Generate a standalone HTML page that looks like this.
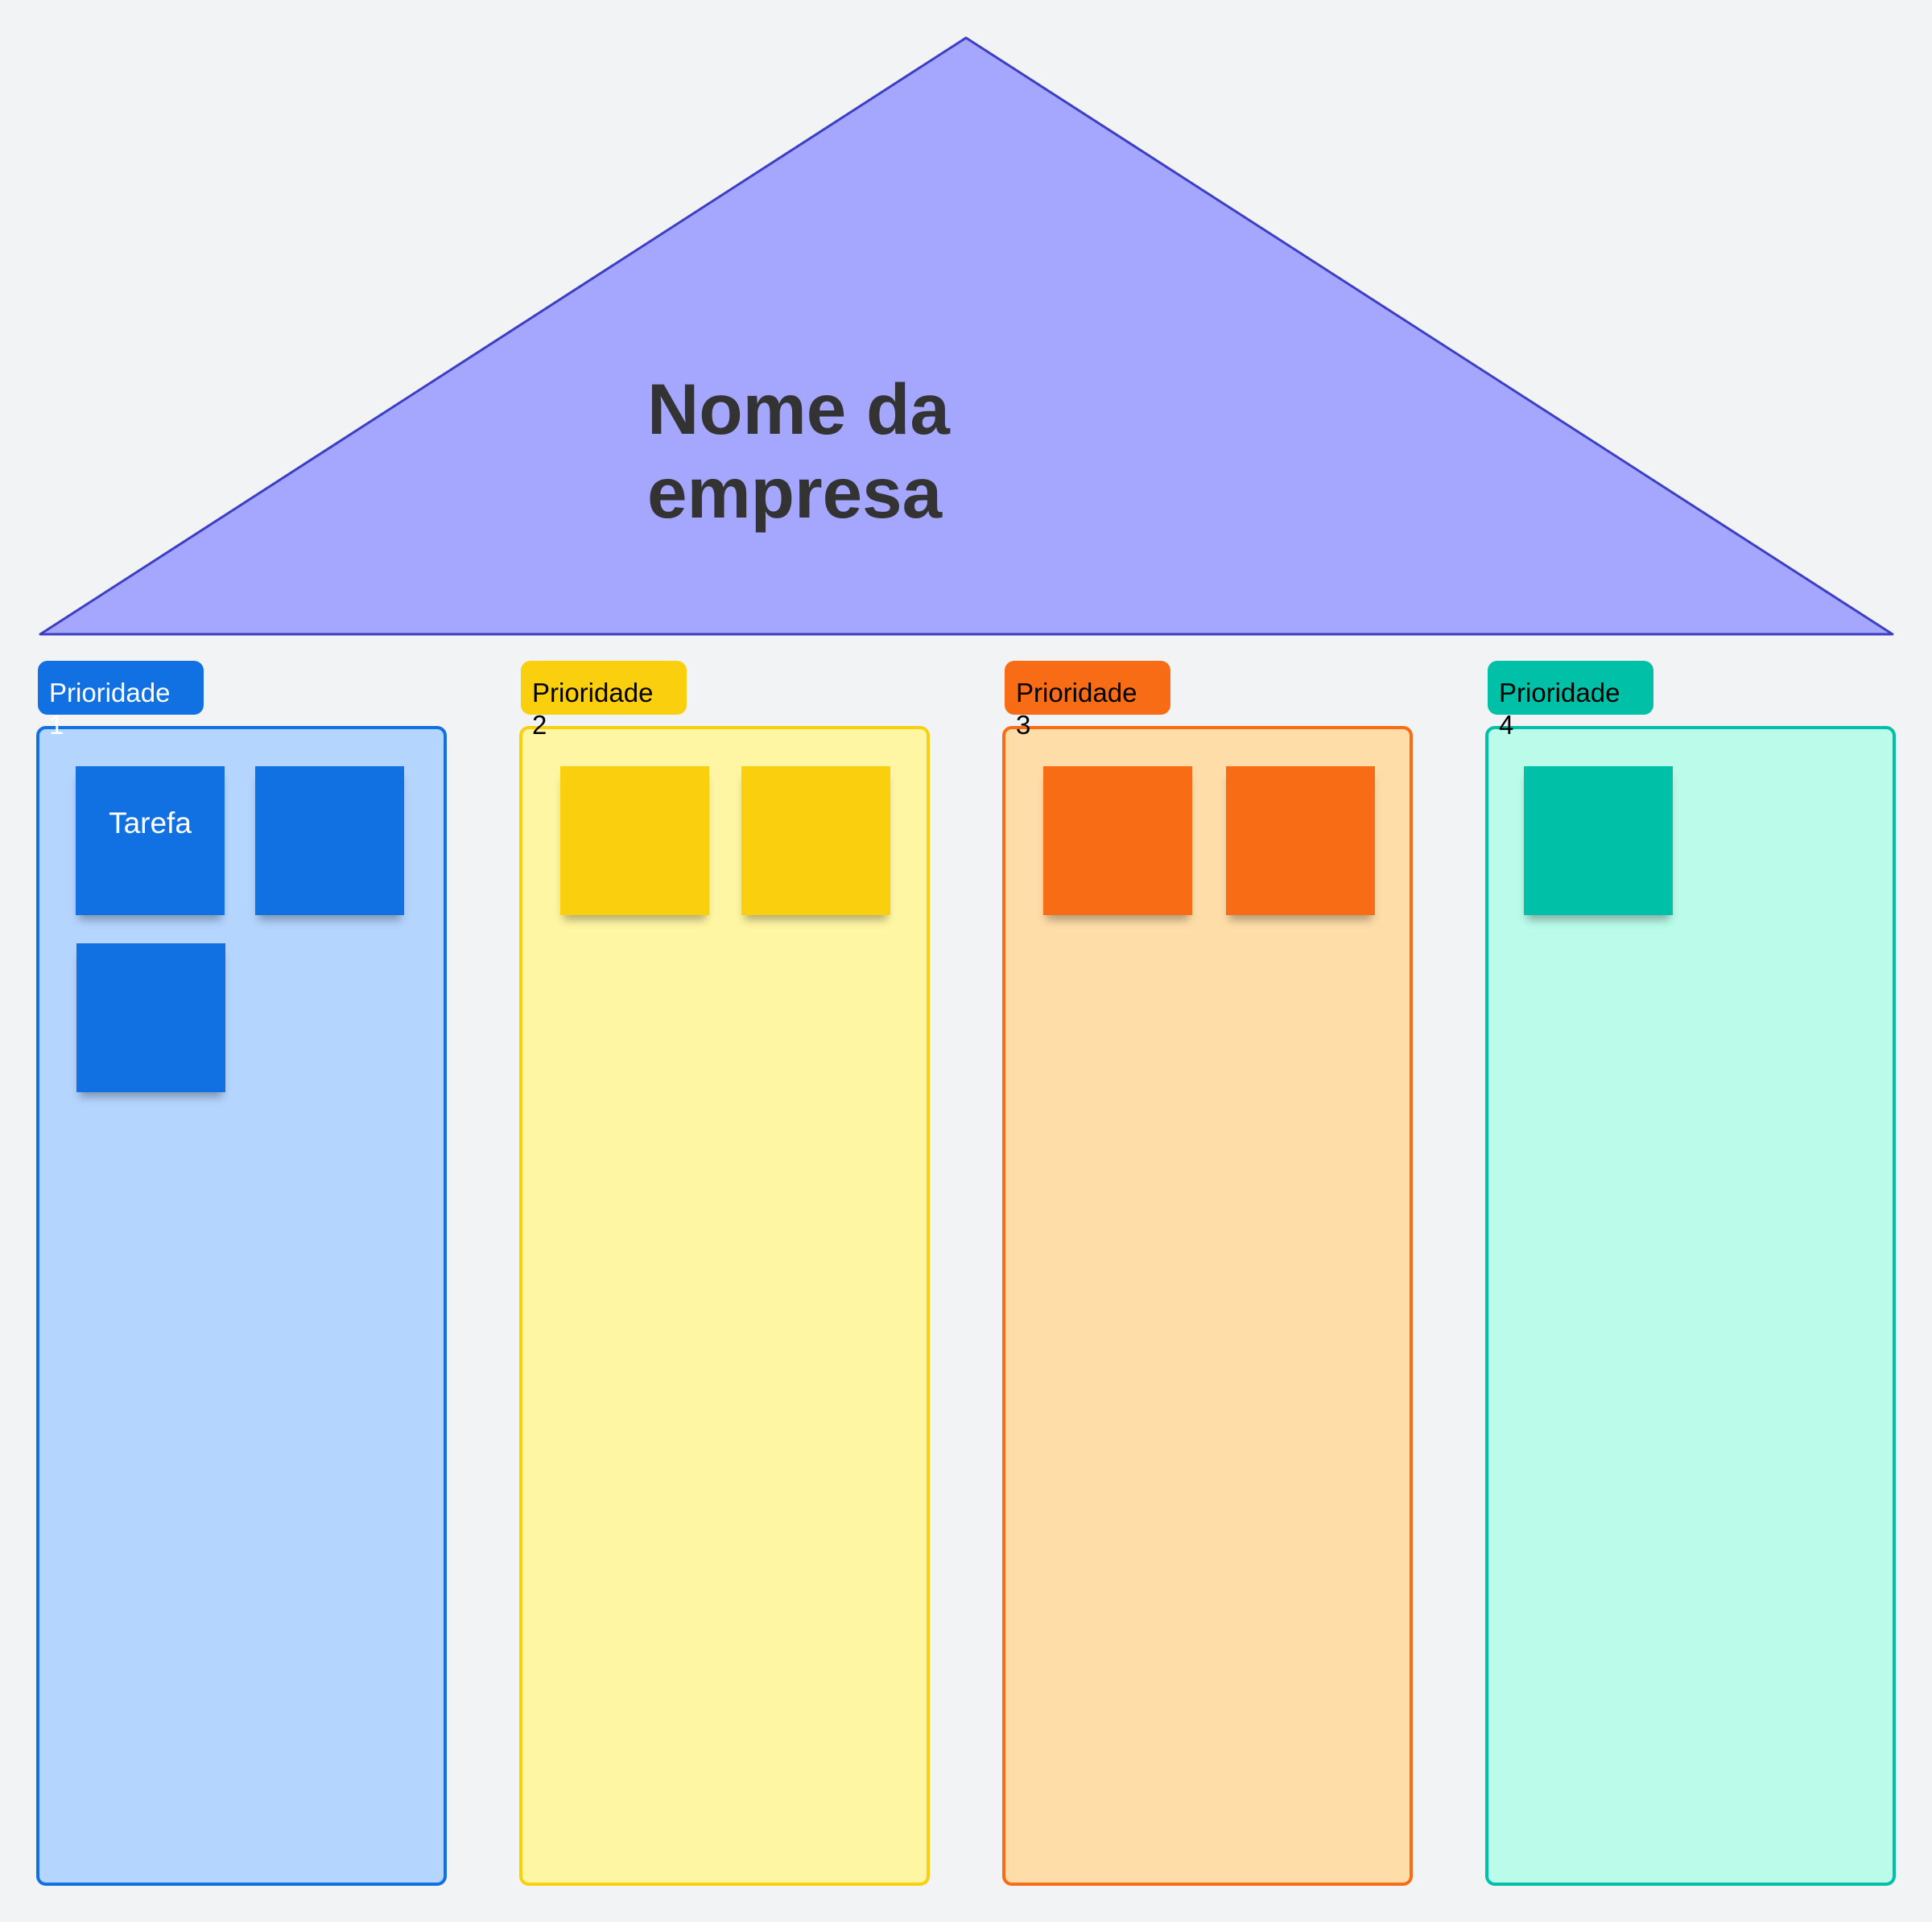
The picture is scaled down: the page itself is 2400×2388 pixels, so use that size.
<!DOCTYPE html>
<html><head><meta charset="utf-8"><style>
html,body{margin:0;padding:0;}
body{width:2400px;height:2388px;background:#f2f3f5;position:relative;overflow:hidden;font-family:"Liberation Sans",sans-serif;}
.col{position:absolute;top:902px;width:502px;height:1433px;border:4px solid;border-radius:12px;box-sizing:content-box;}
.lab{position:absolute;top:821px;width:206px;height:67px;border-radius:12px;}
.lt{position:absolute;top:841px;font-size:33px;line-height:40px;width:180px;}
.st{position:absolute;width:185px;height:185px;box-shadow:0 10px 10px -4px rgba(0,0,0,0.3);}
</style></head><body>
<svg style="position:absolute;left:0;top:0" width="2400" height="2388">
<polygon points="1200,47 2351,788 50,788" fill="#a5a6fe" stroke="#3c3fc4" stroke-width="3" stroke-linejoin="round"/>
</svg>
<div style="position:absolute;left:804px;top:456px;font-size:89px;font-weight:bold;color:#333;line-height:104px;">Nome da<br>empresa</div>

<div class="col" style="left:45px;background:#b4d5fe;border-color:#1271e2"></div>
<div class="col" style="left:645px;background:#fff6a3;border-color:#facf0d"></div>
<div class="col" style="left:1245px;background:#fedda8;border-color:#f76c14"></div>
<div class="col" style="left:1845px;background:#bafbea;border-color:#00c0a8"></div>

<div class="lab" style="left:47px;background:#1271e2"></div>
<div class="lab" style="left:647px;background:#facf0d"></div>
<div class="lab" style="left:1248px;background:#f76c14"></div>
<div class="lab" style="left:1848px;background:#00c0a8"></div>
<div class="lt" style="left:61px;color:#fff">Prioridade<br>1</div>
<div class="lt" style="left:661px;color:#000">Prioridade<br>2</div>
<div class="lt" style="left:1262px;color:#000">Prioridade<br>3</div>
<div class="lt" style="left:1862px;color:#000">Prioridade<br>4</div>

<div class="st" style="left:94px;top:952px;background:#1271e2;color:#fff;font-size:37px;text-align:center;line-height:40px;"><div style="padding-top:51px">Tarefa</div></div>
<div class="st" style="left:317px;top:952px;background:#1271e2"></div>
<div class="st" style="left:95px;top:1172px;background:#1271e2"></div>
<div class="st" style="left:696px;top:952px;background:#facf0d"></div>
<div class="st" style="left:921px;top:952px;background:#facf0d"></div>
<div class="st" style="left:1296px;top:952px;background:#f76c14"></div>
<div class="st" style="left:1523px;top:952px;background:#f76c14"></div>
<div class="st" style="left:1893px;top:952px;background:#00c0a8"></div>
</body></html>
